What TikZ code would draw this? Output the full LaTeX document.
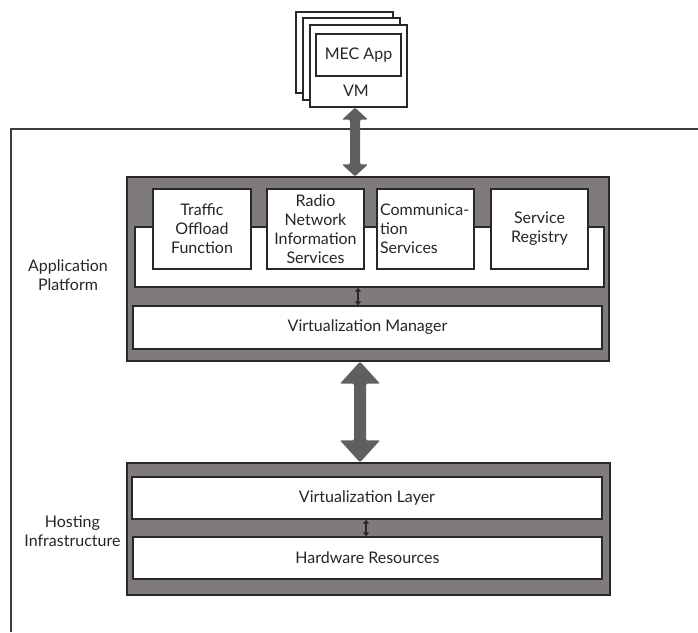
\documentclass[tikz,border=0pt]{standalone}
\usepackage{fontspec}
\setmainfont{Lato}
\usetikzlibrary{calc,arrows.meta}
\definecolor{graybg}{RGB}{128,123,123}
\definecolor{edgec}{RGB}{40,40,40}
\definecolor{arrowc}{RGB}{95,95,95}
\newcommand{\fatarrow}[5]{%
  \fill[arrowc, rounded corners=1.2pt] let \p1=(#1), \p2=(#2) in
  (\x1,\y1) -- (\x1+#4,\y1-#5) -- (\x1+#3,\y1-#5) -- (\x1+#3,\y2+#5) -- (\x1+#4,\y2+#5)
  -- (\x1,\y2) -- (\x1-#4,\y2+#5) -- (\x1-#3,\y2+#5) -- (\x1-#3,\y1-#5) -- (\x1-#4,\y1-#5) -- cycle;}
\tikzset{
  txt/.style={font=\fontsize{16}{19}\selectfont, text=black!85},
  wbox/.style={draw=edgec, line width=1.3pt, fill=white, inner sep=0pt, txt, align=center},
  gbox/.style={draw=edgec, line width=1.3pt, fill=graybg, inner sep=0pt},
  frame/.style={draw=edgec!90, line width=1.5pt},
  thinarrow/.style={draw=edgec, line width=1.2pt, {Triangle[width=6pt,length=4pt]}-{Triangle[width=6pt,length=4pt]}}
}
\begin{document}
\begin{tikzpicture}[x=1pt,y=-1pt]
\useasboundingbox (0,0) rectangle (698,632);
% outer frame
\coordinate (fbl) at (11,632);
\coordinate (ftl) at (11,129);
\coordinate (ftr) at (698,129);
\draw[frame] (fbl) -- (ftl) -- (ftr);
% VM stack
\node[wbox, minimum width=97pt, minimum height=81pt] (vmb) at (344.5,52.5) {};
\node[wbox, minimum width=97pt, minimum height=82pt] (vmm) at (351.5,59) {};
\node[wbox, minimum width=97pt, minimum height=82pt] (vmf) at (358.5,66) {};
\node[wbox, minimum width=85pt, minimum height=42pt] (mec) at (358.5,55) {MEC App};
\node[txt] (vml) at (356,91) {VM};
% application platform
\node[gbox, minimum width=482pt, minimum height=184pt] (ap) at (368,269) {};
\node[wbox, minimum width=469pt, minimum height=60pt] (band) at (369.5,257) {};
\node[wbox, minimum width=98pt, minimum height=80pt] (tof) at (202,229) {Traffic\\Offload\\Function};
\node[wbox, minimum width=97pt, minimum height=80pt] (rnis) at (315.5,229) {Radio\\Network\\Information\\Services};
\node[wbox, minimum width=97pt, minimum height=80pt, align=left, text width=91pt] (comm) at (425.5,229) {Communica-\\tion\\Services};
\node[wbox, minimum width=97pt, minimum height=80pt] (reg) at (539.5,229) {Service\\Registry};
\node[wbox, minimum width=469pt, minimum height=43pt] (vman) at (367.5,327.5) {Virtualization Manager};
\node[txt, align=center] (aplabel) at (68,275) {Application\\Platform};
% hosting infrastructure
\node[gbox, minimum width=483pt, minimum height=132pt] (host) at (368.5,529) {};
\node[wbox, minimum width=470pt, minimum height=42pt] (vlay) at (367,498) {Virtualization Layer};
\node[wbox, minimum width=469pt, minimum height=42pt] (hw) at (367.5,558) {Hardware Resources};
\node[txt, align=center, anchor=east] (hilabel) at (124,531) {Hosting\\Infrastructure};
% arrows
\coordinate (a1t) at ([xshift=-3.5pt]vmf.south);
\coordinate (a1b) at (a1t |- ap.north);
\fatarrow{a1t}{a1b}{5pt}{13pt}{12pt}
\coordinate (a2t) at ([xshift=-8pt]ap.south);
\coordinate (a2b) at (a2t |- host.north);
\fatarrow{a2t}{a2b}{6pt}{20pt}{22pt}
\coordinate (s1t) at ([xshift=-11.5pt]band.south);
\draw[thinarrow] (s1t) -- (s1t |- vman.north);
\coordinate (s2t) at ([xshift=-1pt]vlay.south);
\draw[thinarrow] (s2t) -- (s2t |- hw.north);
\end{tikzpicture}
\end{document}
